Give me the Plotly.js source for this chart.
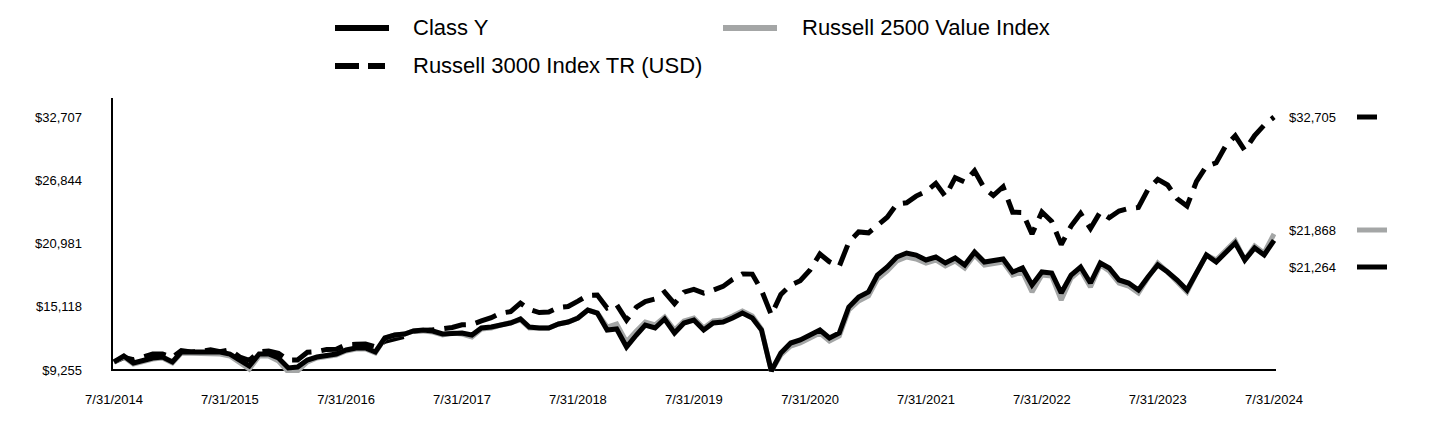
<!DOCTYPE html>
<html>
<head>
<meta charset="utf-8">
<script src="https://cdn.plot.ly/plotly-3.0.1.min.js"></script>
<style>html,body{margin:0;padding:0;background:#fff}#chart{width:1440px;height:432px}</style>
</head>
<body>
<div id="chart"></div>
<script>
// ---- data (month-end values, 7/31/2014 .. 7/31/2024) ----
const seriesNames = ['Class Y', 'Russell 2500 Value Index', 'Russell 3000 Index TR (USD)'];

const classY = [
  10000, 10553, 9904, 10182, 10367, 10460,
  9997, 10923, 10923, 10923, 11016, 10923, 10738, 10182, 9626, 10738, 10738, 10367,
  9440, 9533, 10182, 10460, 10645, 10738, 11109, 11294, 11294, 10923, 12221, 12499,
  12592, 12870, 12962, 12870, 12592, 12684, 12684, 12499, 13148, 13241, 13426, 13612,
  13983, 13241, 13148, 13148, 13519, 13705, 14075, 14816, 14539, 12962, 13055, 11387,
  12499, 13426, 13148, 13983, 12684, 13612, 13890, 12962, 13612, 13705, 14075, 14539,
  14075, 12962, 9162, 10831, 11758, 12036, 12499, 12962, 12221, 12684, 15094, 16021,
  16485, 18061, 18802, 19729, 20100, 19914, 19451, 19729, 19173, 19636, 18987, 20192,
  19266, 19451, 19544, 18339, 18710, 17134, 18339, 18246, 16392, 18061, 18802, 17319,
  19173, 18710, 17597, 17319, 16670, 17875, 18987, 18339, 17597, 16670, 18246, 19914,
  19266, 20192, 21027, 19451, 20563, 19914, 21264
];

const russell2500Value = [
  10000, 10460, 9811, 10089, 10274, 10367,
  9904, 10830, 10830, 10830, 10831, 10738, 10553, 9904, 9348, 10553, 10553, 10089,
  9069, 9162, 9997, 10367, 10552, 10645, 11016, 11201, 11201, 10830, 12221, 12499,
  12592, 12870, 12869, 12777, 12499, 12684, 12591, 12314, 13055, 13148, 13426, 13612,
  13890, 13148, 13148, 13148, 13519, 13705, 14075, 14816, 14539, 13240, 13518, 11850,
  12870, 13704, 13426, 14168, 12962, 13797, 14075, 13147, 13797, 13890, 14260, 14724,
  14260, 13055, 9162, 10646, 11480, 11758, 12221, 12684, 11943, 12406, 14816, 15650,
  16114, 17690, 18431, 19358, 19729, 19543, 19173, 19451, 18895, 19358, 18709, 19914,
  18988, 19173, 19266, 18061, 18339, 16485, 18061, 17968, 15743, 17783, 18524, 16948,
  18988, 18432, 17319, 17041, 16392, 17782, 19172, 18339, 17504, 16485, 18246, 19914,
  19451, 20285, 21212, 19451, 20748, 20099, 21868
];

const russell3000 = [
  10000, 10420, 10201, 10487, 10739, 10739,
  10438, 11044, 10934, 10988, 11131, 10942, 11128, 10460, 10157, 10959, 11025, 10794,
  10189, 10189, 10902, 10967, 11165, 11187, 11600, 11635, 11658, 11402, 11915, 12147,
  12378, 12836, 12849, 12977, 13081, 13199, 13450, 13477, 13800, 14104, 14527, 14672,
  15449, 14878, 14580, 14639, 15049, 15139, 15639, 16171, 16203, 15004, 15304, 13881,
  15075, 15603, 15837, 16470, 15400, 16478, 16725, 16391, 16653, 17003, 17649, 18161,
  18143, 16655, 14357, 16252, 17130, 17524, 18523, 20005, 19285, 18861, 21105, 22055,
  21970, 22600, 23414, 24632, 24755, 25374, 25805, 26553, 25358, 27082, 26676, 27716,
  26081, 25429, 26243, 23881, 23857, 21853, 23907, 23023, 20882, 22594, 23769, 22367,
  23910, 23360, 23991, 24231, 24328, 25982, 26918, 26406, 25139, 24460, 26735, 28152,
  28462, 29999, 30959, 29597, 30988, 31949, 32705
];

const yTickVals = [9255, 15118, 20981, 26844, 32707];
const yTickText = ['$9,255', '$15,118', '$20,981', '$26,844', '$32,707'];
const xTickVals = ['2014-07-31','2015-07-31','2016-07-31','2017-07-31','2018-07-31','2019-07-31','2020-07-31','2021-07-31','2022-07-31','2023-07-31','2024-07-31'];
const xTickText = ['7/31/2014','7/31/2015','7/31/2016','7/31/2017','7/31/2018','7/31/2019','7/31/2020','7/31/2021','7/31/2022','7/31/2023','7/31/2024'];
const endLabels = ['$32,705', '$21,868', '$21,264'];

// month-end dates (category positions)
const months = [];
for (let i = 0; i < classY.length; i++) {
  const m0 = 6 + i;                 // July 2014 = index 0
  const y = 2014 + Math.floor(m0 / 12);
  const m = (m0 % 12) + 1;
  const d = new Date(Date.UTC(y, m, 0)).getUTCDate();
  months.push(y + '-' + String(m).padStart(2, '0') + '-' + String(d).padStart(2, '0'));
}

// ---- layout helpers (pixel -> paper) ----
const PL = 112, PR = 1276, PT = 98, PB = 373;
const px = v => (v - PL) / (PR - PL);
const py = v => (PB - v) / (PB - PT);
const FONT = 'Arial, "Liberation Sans", sans-serif';
const GRAY = '#a4a6a6';

const traces = [
  { x: months, y: russell3000, name: seriesNames[2], type: 'scatter', mode: 'lines',
    line: { color: '#000', width: 5, dash: '22px,10px' }, showlegend: false, hoverinfo: 'skip' },
  { x: months, y: russell2500Value, name: seriesNames[1], type: 'scatter', mode: 'lines',
    line: { color: GRAY, width: 5 }, showlegend: false, hoverinfo: 'skip' },
  { x: months, y: classY, name: seriesNames[0], type: 'scatter', mode: 'lines',
    line: { color: '#000', width: 5 }, showlegend: false, hoverinfo: 'skip' }
];

const shapes = [
  // axis lines
  { type: 'line', xref: 'paper', yref: 'y', x0: 0, x1: 1, y0: yTickVals[0], y1: yTickVals[0], line: { color: '#000', width: 2 }, layer: 'below' },
  { type: 'line', xref: 'paper', yref: 'paper', x0: 0, x1: 0, y0: py(371), y1: 1, line: { color: '#000', width: 2 }, layer: 'below' },
  // legend symbols
  { type: 'line', xref: 'paper', yref: 'paper', x0: px(335), x1: px(389), y0: py(28), y1: py(28), line: { color: '#000', width: 6 } },
  { type: 'line', xref: 'paper', yref: 'paper', x0: px(723), x1: px(777), y0: py(28), y1: py(28), line: { color: GRAY, width: 6 } },
  { type: 'line', xref: 'paper', yref: 'paper', x0: px(335), x1: px(359), y0: py(66), y1: py(66), line: { color: '#000', width: 6 } },
  { type: 'line', xref: 'paper', yref: 'paper', x0: px(368), x1: px(385), y0: py(66), y1: py(66), line: { color: '#000', width: 6 } },
  // end-value markers
  { type: 'line', xref: 'paper', yref: 'paper', x0: px(1357), x1: px(1377), y0: py(117), y1: py(117), line: { color: '#000', width: 5 } },
  { type: 'line', xref: 'paper', yref: 'paper', x0: px(1357), x1: px(1387), y0: py(230), y1: py(230), line: { color: GRAY, width: 5 } },
  { type: 'line', xref: 'paper', yref: 'paper', x0: px(1357), x1: px(1387), y0: py(267), y1: py(267), line: { color: '#000', width: 5 } }
];

const legendFont = { family: FONT, size: 22, color: '#000' };
const labelFont = { family: FONT, size: 13, color: '#000' };
const annotations = [
  { text: seriesNames[0], xref: 'paper', yref: 'paper', x: px(411), y: py(28), xanchor: 'left', yanchor: 'middle', showarrow: false, font: legendFont },
  { text: seriesNames[1], xref: 'paper', yref: 'paper', x: px(800), y: py(28), xanchor: 'left', yanchor: 'middle', showarrow: false, font: legendFont },
  { text: seriesNames[2], xref: 'paper', yref: 'paper', x: px(411), y: py(66), xanchor: 'left', yanchor: 'middle', showarrow: false, font: legendFont },
  { text: endLabels[0], xref: 'paper', yref: 'paper', x: px(1287), y: py(117), xanchor: 'left', yanchor: 'middle', showarrow: false, font: labelFont },
  { text: endLabels[1], xref: 'paper', yref: 'paper', x: px(1287), y: py(230), xanchor: 'left', yanchor: 'middle', showarrow: false, font: labelFont },
  { text: endLabels[2], xref: 'paper', yref: 'paper', x: px(1287), y: py(267), xanchor: 'left', yanchor: 'middle', showarrow: false, font: labelFont }
];

const layout = {
  width: 1440, height: 432, autosize: false,
  margin: { l: PL, r: 1440 - PR, t: PT, b: 432 - PB, pad: 0 },
  paper_bgcolor: '#fff', plot_bgcolor: '#fff',
  font: { family: FONT, color: '#000' },
  showlegend: false,
  xaxis: {
    type: 'date', range: ['2014-07-24 17:00', '2024-08-06 07:00'],
    tickmode: 'array', tickvals: xTickVals, ticktext: xTickText,
    showgrid: false, zeroline: false, showline: false, ticks: '',
    ticklabelstandoff: 17, tickfont: labelFont, fixedrange: true
  },
  yaxis: {
    range: [8977, 34467],
    tickmode: 'array', tickvals: yTickVals, ticktext: yTickText,
    showgrid: false, zeroline: false, showline: false, ticks: '',
    ticklabelstandoff: 29, tickfont: labelFont, fixedrange: true
  },
  shapes: shapes,
  annotations: annotations
};

Plotly.newPlot('chart', traces, layout, { displayModeBar: false, staticPlot: true });
</script>
</body>
</html>
